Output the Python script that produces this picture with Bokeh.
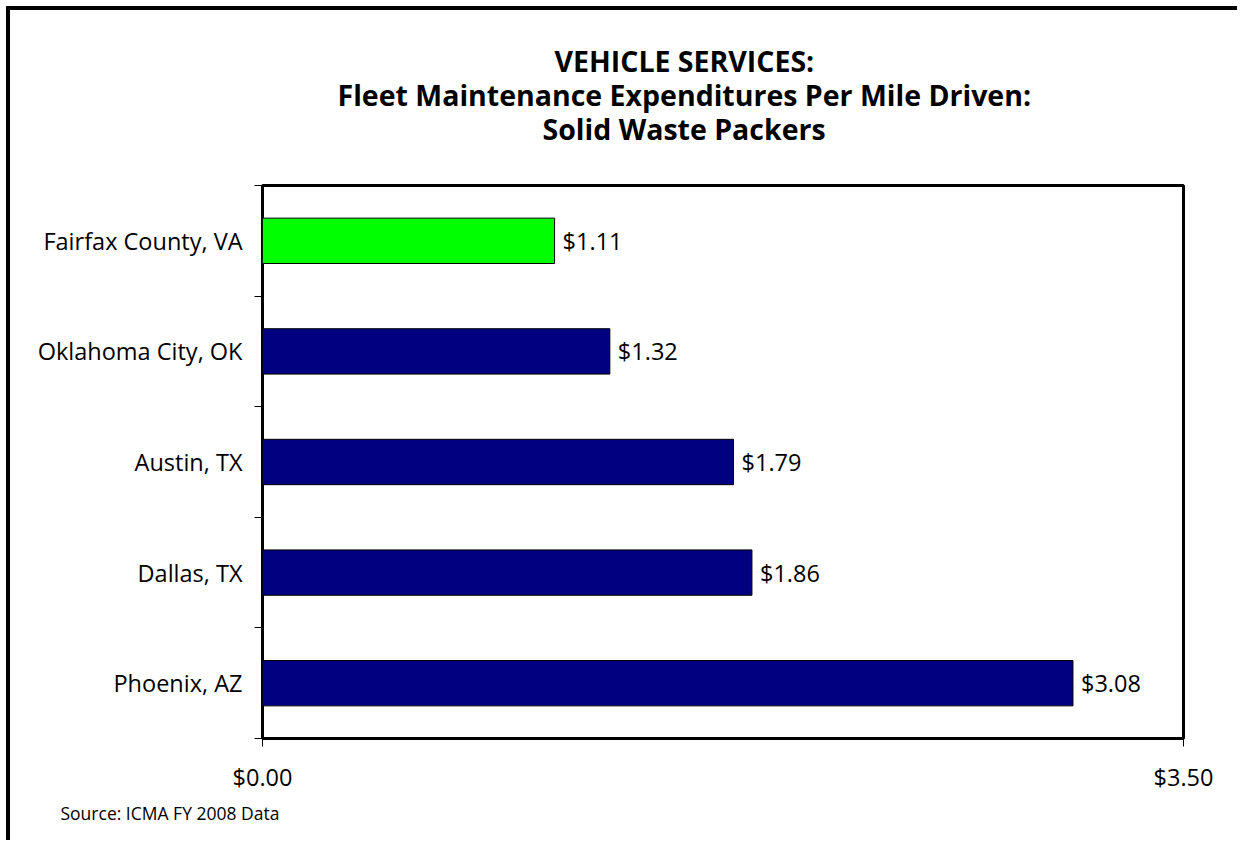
from bokeh.plotting import figure
from bokeh.models import FixedTicker, ColumnDataSource, Range1d, Title
from bokeh.core.properties import value
from bokeh.embed import file_html
from bokeh.resources import INLINE

# Data (top to bottom)
categories = ["Fairfax County, VA", "Oklahoma City, OK", "Austin, TX", "Dallas, TX", "Phoenix, AZ"]
values = [1.11, 1.32, 1.79, 1.86, 3.08]
colors = ["#00FF00", "#000080", "#000080", "#000080", "#000080"]
x_ticks = [0.0, 3.5]
x_tick_labels = ["$0.00", "$3.50"]
title_lines = ["VEHICLE SERVICES:", "Fleet Maintenance Expenditures Per Mile Driven:", "Solid Waste Packers"]
source_note = "Source: ICMA FY 2008 Data"

FONT = "Open Sans"
LABEL_SIZE = "23.5px"
n = len(categories)
ypos = [n - i - 0.5 for i in range(n)]
labels = ["$%.2f" % v for v in values]

src = ColumnDataSource(dict(y=ypos, v=values, c=colors, lab=labels, cat=categories))

p = figure(width=1231, height=834, output_backend="svg", toolbar_location=None,
           x_range=Range1d(0, 3.5), y_range=Range1d(0, n),
           min_border_left=252, min_border_right=58, min_border_top=175, min_border_bottom=106)
p.styles = {"border-left": "4px solid black", "border-top": "4px solid black",
            "margin-left": "6px", "margin-top": "6px"}
p.grid.visible = False
p.outline_line_color = "black"
p.outline_line_width = 3
p.background_fill_color = "white"
p.border_fill_color = "white"

p.hbar(y="y", right="v", left=0, height=0.41, fill_color="c", line_color="black", line_width=1, source=src)
p.text(x="v", y="y", text="lab", x_offset=8, text_baseline="middle", text_align="left",
       text_font=value(FONT), text_font_size=LABEL_SIZE, text_color="black", source=src)

# x axis
xa = p.xaxis[0]
xa.ticker = FixedTicker(ticks=x_ticks)
xa.major_label_overrides = {t: l for t, l in zip(x_ticks, x_tick_labels)}
xa.axis_line_color = None
xa.major_tick_out = 8
xa.major_tick_in = 0
xa.major_tick_line_color = "black"
xa.minor_tick_line_color = None
xa.major_label_standoff = 14
xa.major_label_text_font = FONT
xa.major_label_text_font_size = LABEL_SIZE
xa.major_label_text_color = "black"

# y axis
ya = p.yaxis[0]
ya.ticker = FixedTicker(ticks=ypos, minor_ticks=[float(i) for i in range(n + 1)])
ya.major_label_overrides = {y: c for y, c in zip(ypos, categories)}
ya.axis_line_color = None
ya.major_tick_line_color = None
ya.major_tick_out = 0
ya.major_tick_in = 0
ya.minor_tick_line_color = "black"
ya.minor_tick_out = 8
ya.minor_tick_in = 0
ya.major_label_standoff = 12
ya.major_label_text_font = FONT
ya.major_label_text_font_size = LABEL_SIZE
ya.major_label_text_color = "black"

# spacer between frame and title block
p.add_layout(Title(text=" ", text_font_size="1px", standoff=38), "above")

# Title lines (nearest-frame first); left-aligned with offsets so they centre at x~683
title_offsets = [292, 75, 280]
for line, off in zip(reversed(title_lines), reversed(title_offsets)):
    t = Title(text=line, align="left", offset=off, text_font=FONT, text_font_size="28.5px",
              text_font_style="bold", text_color="black", standoff=-6)
    p.add_layout(t, "above")

p.add_layout(Title(text=source_note, align="left", offset=-202, text_font=FONT,
                   text_font_size="17.5px", text_font_style="normal", text_color="black",
                   standoff=6), "below")

open("out.html", "w").write(file_html(p, INLINE))
